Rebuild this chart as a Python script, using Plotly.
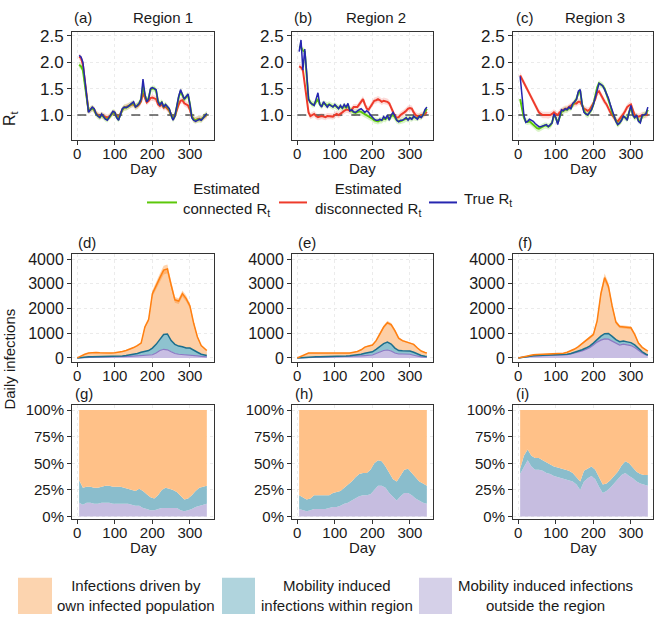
import plotly.graph_objects as go

W, H = 659, 622
FONT = "Liberation Sans, Arial, sans-serif"

# ---------------- data ----------------
rt_days = list(range(5, 350, 5))

r1_true = [2.13,2.1,2.0,1.65,1.3,1.05,1.1,1.15,1.12,1.02,0.98,0.95,1.02,0.97,0.92,0.9,0.95,1.02,1.07,1.05,0.95,0.9,1.02,1.12,1.15,1.14,1.16,1.2,1.22,1.25,1.15,1.18,1.22,1.3,1.68,1.4,1.25,1.3,1.5,1.52,1.5,1.48,1.25,1.18,1.25,1.15,1.2,1.15,1.12,1.0,0.9,0.98,1.2,1.35,1.48,1.38,1.3,1.35,1.4,1.2,0.95,0.9,0.88,0.9,0.92,0.9,0.95,1.0,1.03]
r1_conn = [1.95,1.92,1.85,1.6,1.3,1.08,1.1,1.13,1.1,1.02,0.98,0.96,1.0,0.96,0.93,0.92,0.95,1.0,1.05,1.04,0.96,0.92,1.02,1.1,1.14,1.14,1.16,1.19,1.21,1.22,1.16,1.18,1.22,1.3,1.55,1.38,1.26,1.32,1.48,1.5,1.5,1.46,1.26,1.2,1.24,1.16,1.19,1.15,1.1,1.0,0.92,0.98,1.18,1.33,1.45,1.37,1.3,1.34,1.38,1.2,0.97,0.91,0.9,0.91,0.92,0.91,0.95,1.0,1.02]
r1_disc = [2.1,2.08,1.95,1.62,1.3,1.08,1.1,1.13,1.1,1.03,1.0,0.98,1.0,0.98,0.96,0.95,0.97,1.0,1.04,1.04,0.98,0.95,1.03,1.1,1.14,1.15,1.16,1.18,1.2,1.2,1.16,1.17,1.2,1.26,1.42,1.33,1.24,1.27,1.32,1.33,1.32,1.3,1.2,1.17,1.2,1.14,1.16,1.12,1.08,1.0,0.95,0.98,1.1,1.2,1.27,1.28,1.22,1.2,1.18,1.1,0.97,0.92,0.9,0.92,0.93,0.92,0.95,0.98,1.0]

r2_true = [2.2,2.42,1.85,2.25,1.8,1.3,1.23,1.2,1.18,1.3,1.42,1.2,1.15,1.25,1.2,1.15,1.2,1.18,1.15,1.2,1.15,1.12,1.18,1.13,1.2,1.15,1.22,1.08,1.1,1.06,1.05,1.08,1.1,1.12,1.08,1.05,1.08,1.05,1.0,0.95,0.92,0.9,0.9,0.92,0.9,0.97,0.93,1.0,0.9,1.0,1.05,0.98,0.9,0.87,0.9,0.9,0.92,0.95,0.9,0.95,0.92,0.98,0.95,0.92,0.98,0.95,1.0,1.1,1.15]
r2_conn = [2.3,2.28,2.22,2.2,1.75,1.3,1.24,1.2,1.2,1.26,1.3,1.2,1.17,1.22,1.2,1.18,1.2,1.18,1.16,1.18,1.15,1.13,1.16,1.13,1.17,1.14,1.18,1.1,1.08,1.05,1.04,1.06,1.07,1.06,1.04,1.02,1.0,0.98,0.95,0.93,0.9,0.89,0.88,0.9,0.9,0.93,0.92,0.96,0.93,0.98,1.0,0.96,0.9,0.88,0.88,0.9,0.91,0.93,0.92,0.94,0.93,0.96,0.95,0.94,0.97,0.96,1.0,1.07,1.12]
r2_disc = [1.92,1.9,1.85,1.6,1.3,1.05,0.98,1.0,1.02,0.98,0.96,0.97,0.98,0.97,0.96,0.98,0.98,0.98,0.97,1.0,1.02,1.0,1.02,1.05,1.08,1.1,1.1,1.08,1.1,1.15,1.15,1.15,1.2,1.25,1.3,1.2,1.12,1.1,1.15,1.22,1.27,1.28,1.3,1.28,1.25,1.27,1.26,1.25,1.22,1.15,1.05,0.98,0.95,0.96,1.0,1.02,1.05,1.08,1.12,1.13,1.12,1.05,1.0,0.98,0.98,1.0,1.0,1.02,1.06]

r3_true = [1.73,1.4,1.0,0.86,0.88,0.92,0.9,0.88,0.84,0.8,0.78,0.78,0.79,0.8,0.82,0.78,0.82,0.85,1.02,0.95,0.82,0.95,1.1,1.08,1.12,1.1,1.15,1.12,1.22,1.25,1.3,1.45,1.48,1.2,1.05,1.02,1.0,1.05,1.1,1.2,1.35,1.5,1.6,1.58,1.55,1.48,1.4,1.32,1.2,1.08,1.0,0.88,0.82,0.85,0.9,0.98,0.95,0.9,1.05,1.18,1.0,0.95,1.0,0.88,0.85,1.0,1.0,1.02,1.15]
r3_conn = [1.3,1.15,0.95,0.88,0.87,0.88,0.85,0.82,0.78,0.75,0.74,0.76,0.78,0.8,0.8,0.78,0.8,0.85,1.0,0.95,0.85,0.95,1.06,1.08,1.1,1.1,1.13,1.13,1.2,1.25,1.3,1.42,1.45,1.2,1.08,1.02,1.0,1.04,1.1,1.2,1.35,1.52,1.6,1.58,1.55,1.5,1.4,1.3,1.18,1.05,0.97,0.87,0.82,0.85,0.9,0.97,0.95,0.92,1.05,1.15,1.0,0.95,0.98,0.9,0.88,0.98,1.0,1.02,1.1]
r3_disc = [1.75,1.68,1.6,1.55,1.48,1.42,1.35,1.28,1.2,1.12,1.05,1.02,1.0,1.0,1.0,0.99,1.0,1.02,1.05,1.02,1.0,1.05,1.08,1.1,1.12,1.12,1.15,1.18,1.2,1.22,1.22,1.25,1.25,1.18,1.12,1.1,1.08,1.1,1.15,1.22,1.3,1.42,1.45,1.38,1.3,1.25,1.2,1.12,1.05,1.0,0.95,0.9,0.88,0.92,0.98,1.02,1.08,1.15,1.18,1.2,1.1,1.0,0.98,0.97,0.98,1.0,1.0,1.0,1.02]

inf_days = list(range(0, 350, 10)) + [345]

r1_total = [0,80,150,200,220,220,210,200,200,200,210,220,260,300,350,420,500,600,1250,1550,2600,2950,3250,3550,3600,2950,2350,2300,2600,2400,2100,1400,850,500,340,300]
r1_mob   = [0,20,35,45,50,50,50,50,50,55,60,70,80,100,120,150,180,230,280,300,400,550,750,950,970,700,550,480,450,400,400,330,230,150,110,100]
r1_out   = [0,10,20,25,30,30,30,30,30,30,35,40,45,55,60,70,80,90,100,110,130,200,300,350,330,250,180,150,140,140,130,110,80,60,50,45]

r2_total = [0,60,150,200,200,200,195,190,180,175,170,170,175,180,200,230,260,330,440,480,520,700,950,1250,1430,1350,1100,800,700,650,620,550,400,280,220,200]
r2_mob   = [0,15,30,40,45,45,50,50,50,50,55,60,65,75,85,100,120,150,190,220,250,350,480,580,640,560,400,300,290,280,280,230,150,100,70,60]
r2_out   = [0,5,10,15,15,15,15,15,18,20,20,25,30,35,45,55,65,80,95,100,120,180,250,300,320,280,200,160,160,160,150,110,70,45,35,30]

r3_total = [0,40,80,110,130,135,140,145,150,155,160,170,190,230,290,360,460,580,700,800,950,1500,2600,3250,2900,2100,1450,1270,1260,1230,1220,950,600,430,330,280]
r3_mob   = [0,30,60,80,90,95,100,100,100,105,110,115,130,150,180,220,270,330,400,480,600,760,880,980,990,870,740,660,680,650,620,530,380,250,150,120]
r3_out   = [0,25,50,70,80,85,90,90,90,95,100,105,115,130,160,190,230,280,340,410,520,640,720,770,760,680,580,520,560,540,500,420,300,200,120,100]

prop_days = list(range(5, 350, 10))

r1_p_out = [0.13,0.11,0.13,0.13,0.12,0.12,0.13,0.13,0.13,0.12,0.12,0.12,0.12,0.12,0.11,0.1,0.1,0.08,0.07,0.06,0.06,0.07,0.08,0.08,0.08,0.08,0.08,0.06,0.05,0.06,0.07,0.09,0.1,0.11,0.12]
r1_p_mob = [0.34,0.27,0.28,0.28,0.27,0.27,0.28,0.29,0.29,0.28,0.28,0.28,0.27,0.26,0.25,0.24,0.26,0.24,0.21,0.18,0.17,0.2,0.25,0.27,0.26,0.25,0.23,0.19,0.16,0.17,0.2,0.24,0.27,0.28,0.29]
r2_p_out = [0.07,0.06,0.05,0.06,0.07,0.07,0.07,0.07,0.08,0.09,0.09,0.1,0.12,0.13,0.15,0.17,0.19,0.2,0.2,0.21,0.25,0.29,0.29,0.27,0.22,0.18,0.15,0.19,0.22,0.22,0.2,0.17,0.15,0.13,0.12]
r2_p_mob = [0.2,0.18,0.16,0.17,0.2,0.2,0.2,0.2,0.2,0.22,0.23,0.24,0.27,0.3,0.33,0.37,0.4,0.41,0.41,0.44,0.5,0.53,0.52,0.47,0.41,0.35,0.33,0.38,0.44,0.45,0.41,0.36,0.33,0.31,0.29]
r3_p_out = [0.4,0.47,0.53,0.47,0.44,0.44,0.43,0.41,0.4,0.38,0.37,0.36,0.35,0.34,0.33,0.3,0.25,0.33,0.36,0.38,0.35,0.28,0.22,0.24,0.27,0.31,0.35,0.39,0.41,0.38,0.36,0.33,0.31,0.3,0.29]
r3_p_mob = [0.45,0.57,0.63,0.57,0.55,0.55,0.53,0.51,0.49,0.47,0.46,0.45,0.44,0.43,0.41,0.37,0.33,0.43,0.45,0.47,0.44,0.37,0.3,0.31,0.34,0.38,0.42,0.48,0.52,0.5,0.46,0.42,0.4,0.39,0.39]

region_titles = ["Region 1", "Region 2", "Region 3"]
panel_labels = ["(a)", "(b)", "(c)", "(d)", "(e)", "(f)", "(g)", "(h)", "(i)"]
rt_ticks = [1.0, 1.5, 2.0, 2.5]
inf_ticks = [0, 1000, 2000, 3000, 4000]
prop_ticks = [0, 0.25, 0.5, 0.75, 1.0]
day_ticks = [0, 100, 200, 300]

# ---------------- style ----------------
GREEN, RED, BLUE = "#5CC80A", "#EE3B2B", "#2626B0"
GREEN_BAND, RED_BAND = "rgba(110,210,40,0.25)", "rgba(240,90,80,0.22)"
OR_LINE, TE_LINE, PU_LINE = "#FF8012", "#1C6E8C", "#8C79C4"
OR_FILL, TE_FILL, PU_FILL = "#FDCFA6", "#8EC2CF", "#C8BEE3"
OR_BAND = "rgba(255,128,18,0.35)"
P_OR, P_TE, P_PU = "#FFC188", "#8ABDCC", "#C6BDE0"
RT_HALF = 0.06
YTICK_SIZES = [17, 16, 15]

def px(x): return x / W
def py(y): return 1 - y / H

cols = [(72, 214), (292, 433), (513, 653)]
rows = [(27, 137), (253, 363), (407, 523)]
PX_PER_DAY = 0.3756
yranges = [[0.535, 2.58], [-147, 4222], [-0.021, 1.05]]

fig = go.Figure()

def band(k, x, y, half, color):
    up = [v + half for v in y]
    lo = [v - half for v in y]
    fig.add_trace(go.Scatter(x=x + x[::-1], y=up + lo[::-1], fill="toself", fillcolor=color,
                             line=dict(width=0), hoverinfo="skip", showlegend=False,
                             xaxis=f"x{k}", yaxis=f"y{k}"))

def line(k, x, y, color, width, dash="solid"):
    fig.add_trace(go.Scatter(x=x, y=y, mode="lines", line=dict(color=color, width=width, dash=dash),
                             showlegend=False, xaxis=f"x{k}", yaxis=f"y{k}"))

rt_sets = [(r1_conn, r1_disc, r1_true), (r2_conn, r2_disc, r2_true), (r3_conn, r3_disc, r3_true)]
for i, (conn, disc, true) in enumerate(rt_sets):
    k = i + 1
    band(k, rt_days, disc, RT_HALF, RED_BAND)
    band(k, rt_days, conn, RT_HALF, GREEN_BAND)
    line(k, [0, 350], [1, 1], "#000000", 1, "dash")
    line(k, rt_days, disc, RED, 2)
    line(k, rt_days, conn, GREEN, 2)
    line(k, rt_days, true, BLUE, 1.5)

inf_sets = [(r1_total, r1_mob, r1_out), (r2_total, r2_mob, r2_out), (r3_total, r3_mob, r3_out)]
for i, (tot, mob, out) in enumerate(inf_sets):
    k = i + 4
    ax = dict(xaxis=f"x{k}", yaxis=f"y{k}", showlegend=False, hoverinfo="skip")
    fig.add_trace(go.Scatter(x=inf_days, y=out, fill="tozeroy", fillcolor=PU_FILL, mode="lines",
                             line=dict(color=PU_LINE, width=1.2), **ax))
    fig.add_trace(go.Scatter(x=inf_days, y=mob, fill="tonexty", fillcolor=TE_FILL, mode="lines",
                             line=dict(color=TE_LINE, width=1.5), **ax))
    fig.add_trace(go.Scatter(x=inf_days, y=tot, fill="tonexty", fillcolor=OR_FILL, mode="lines",
                             line=dict(color=OR_LINE, width=1.5), **ax))
    up = [v * 1.05 for v in tot]
    lo = [v * 0.95 for v in tot]
    fig.add_trace(go.Scatter(x=inf_days + inf_days[::-1], y=up + lo[::-1], fill="toself",
                             fillcolor=OR_BAND, line=dict(width=0), **ax))

prop_sets = [(r1_p_out, r1_p_mob), (r2_p_out, r2_p_mob), (r3_p_out, r3_p_mob)]
for i, (pout, pmob) in enumerate(prop_sets):
    k = i + 7
    ax = dict(xaxis=f"x{k}", yaxis=f"y{k}", showlegend=False, hoverinfo="skip", mode="lines",
              line=dict(width=0))
    fig.add_trace(go.Scatter(x=prop_days, y=pout, fill="tozeroy", fillcolor=P_PU, **ax))
    fig.add_trace(go.Scatter(x=prop_days, y=pmob, fill="tonexty", fillcolor=P_TE, **ax))
    fig.add_trace(go.Scatter(x=prop_days, y=[1.0] * len(prop_days), fill="tonexty", fillcolor=P_OR, **ax))

layout = dict(width=W, height=H, margin=dict(l=0, r=0, t=0, b=0),
              paper_bgcolor="white", plot_bgcolor="white", showlegend=False,
              font=dict(family=FONT, size=15, color="#1a1a1a"))

axis_common = dict(showline=True, mirror=True, linecolor="#333333", linewidth=1,
                   ticks="outside", ticklen=4, tickcolor="#333333", tickwidth=1,
                   showgrid=True, gridcolor="#EBEBEB", gridwidth=1, griddash="dot",
                   zeroline=False, tickfont=dict(family=FONT, size=15, color="#1a1a1a"))

for r in range(3):
    for c in range(3):
        k = r * 3 + c + 1
        x0, x1 = cols[c]
        y0, y1 = rows[r]
        xr = [-14, -14 + (x1 - x0) / PX_PER_DAY]
        xa = dict(axis_common, domain=[px(x0), px(x1)], range=xr, anchor=f"y{k}",
                  tickvals=day_ticks, ticklabelstandoff=-4)
        ya = dict(axis_common, domain=[py(y1), py(y0)], range=yranges[r], anchor=f"x{k}",
                  tickfont=dict(family=FONT, size=YTICK_SIZES[r], color="#1a1a1a"))
        if r == 0:
            ya.update(tickvals=rt_ticks, tickformat=".1f")
        elif r == 1:
            ya.update(tickvals=inf_ticks, tickformat="d")
        else:
            ya.update(tickvals=prop_ticks, tickformat=".0%")
        sfx = "" if k == 1 else str(k)
        layout["xaxis" + sfx] = xa
        layout["yaxis" + sfx] = ya

ann = []
def text(x, y, s, xanchor="center", angle=0, size=15):
    ann.append(dict(x=px(x), y=py(y), xref="paper", yref="paper", text=s, showarrow=False,
                    xanchor=xanchor, yanchor="middle", textangle=angle,
                    font=dict(family=FONT, size=size, color="#1a1a1a")))

label_pos = [(72, 13), (292, 13), (514, 13), (76, 242), (296, 242), (516, 242),
             (73, 395), (293, 395), (514, 395)]
for lab, (x, y) in zip(panel_labels, label_pos):
    text(x, y, lab, xanchor="left")
for t, x in zip(region_titles, [163, 376, 595]):
    text(x, 13, t)
for c in range(3):
    cx = (cols[c][0] + cols[c][1]) / 2
    text(cx, 166, "Day")
    text(cx, 552, "Day")
text(11, 115, "R<sub>t</sub>", angle=-90, size=16)
text(10, 361, "Daily infections", angle=-90)

shapes = []
# top legend
for (xa_, xb_), col, lab, cx in [((147, 177), GREEN, "Estimated<br>connected R<sub>t</sub>", 226),
                                 ((279, 307), RED, "Estimated<br>disconnected R<sub>t</sub>", 368),
                                 ((429, 457), BLUE, "True R<sub>t</sub>", 488)]:
    shapes.append(dict(type="line", xref="paper", yref="paper", x0=px(xa_), x1=px(xb_),
                       y0=py(201), y1=py(201), line=dict(color=col, width=2)))
    text(cx, 198, lab)

# bottom legend
for (xa_, xb_), col, lab, cx in [((18, 52), "#FCD4AF", "Infections driven by<br>own infected population", 136),
                                 ((222, 255), "#B0D4DD", "Mobility induced<br>infections within region", 337),
                                 ((419, 452), "#D5D0E8", "Mobility induced infections<br>outside the region", 545)]:
    shapes.append(dict(type="rect", xref="paper", yref="paper", x0=px(xa_), x1=px(xb_),
                       y0=py(620), y1=py(583), line=dict(width=0), fillcolor=col))
    text(cx, 601, lab)

layout["annotations"] = ann
layout["shapes"] = shapes
fig.update_layout(**layout)
fig.write_html("out.html")
